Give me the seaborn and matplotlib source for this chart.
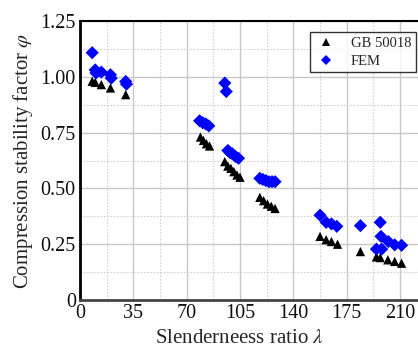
import numpy as np
import pandas as pd
import matplotlib
matplotlib.use("Agg")
import matplotlib.pyplot as plt
from matplotlib.ticker import MultipleLocator, FixedLocator
import seaborn as sns

# ---- data ----
gb_lambda = [8, 10, 14, 20, 30, 79, 81, 83, 85, 95, 97, 99, 101, 103, 105,
             118, 120.5, 123, 125.5, 128, 157.5, 161.5, 165, 169, 184,
             194.5, 197, 202, 206.5, 211]
gb_phi = [0.98, 0.975, 0.965, 0.95, 0.92, 0.73, 0.715, 0.70, 0.69, 0.62, 0.60,
          0.59, 0.575, 0.56, 0.55, 0.46, 0.445, 0.43, 0.42, 0.41, 0.285, 0.27,
          0.262, 0.25, 0.217, 0.193, 0.19, 0.18, 0.173, 0.165]
fem_lambda = [8, 10, 10.5, 14, 20, 20.5, 30, 30.5, 78.5, 80.5, 82.5, 84.5, 95,
              96, 97, 98.5, 100, 102, 104, 118, 120, 122, 124, 126, 128, 157.5,
              161.5, 165, 168.5, 184, 197, 197.5, 194.5, 198, 202.3, 206.5, 211]
fem_phi = [1.108, 1.031, 1.017, 1.021, 1.009, 0.994, 0.979, 0.967, 0.803, 0.794,
           0.789, 0.78, 0.972, 0.934, 0.67, 0.66, 0.655, 0.643, 0.635, 0.545,
           0.54, 0.535, 0.53, 0.53, 0.53, 0.38, 0.348, 0.341, 0.33, 0.333,
           0.348, 0.285, 0.228, 0.228, 0.262, 0.247, 0.245]
series_names = ["GB 50018", "FEM"]
x_ticks = [0, 35, 70, 105, 140, 175, 210]
y_ticks = [0, 0.25, 0.50, 0.75, 1.00, 1.25]
y_tick_labels = ["0", "0.25", "0.50", "0.75", "1.00", "1.25"]

df = pd.concat([
    pd.DataFrame({"lam": gb_lambda, "phi": gb_phi, "src": series_names[0]}),
    pd.DataFrame({"lam": fem_lambda, "phi": fem_phi, "src": series_names[1]}),
])

sns.set_style("white")
plt.rcParams["font.family"] = ["Liberation Serif", "DejaVu Serif"]
plt.rcParams["mathtext.fontset"] = "stix"

fig = plt.figure(figsize=(4.18, 3.51), dpi=100)
ax = fig.add_axes([80 / 418, 51 / 351, 338 / 418, 279 / 351])

sns.scatterplot(data=df, x="lam", y="phi", hue="src", style="src",
                palette={"GB 50018": "black", "FEM": "#0000ff"},
                markers={"GB 50018": "^", "FEM": "D"},
                s=45, linewidth=0, ax=ax, zorder=3, legend=True)

ax.set_xlim(0, 338 / 1.524)
ax.set_ylim(0, 1.25)
ax.xaxis.set_major_locator(FixedLocator(x_ticks))
ax.xaxis.set_minor_locator(MultipleLocator(17.5))
ax.set_yticks(y_ticks)
ax.set_yticklabels(y_tick_labels)
ax.yaxis.set_minor_locator(MultipleLocator(0.125))

ax.grid(which="major", color="#c8c8c8", linewidth=1.0, linestyle="-")
ax.grid(which="minor", color="#d0d0d0", linewidth=0.8, linestyle=(0, (1.5, 1.5)))
ax.set_axisbelow(True)

ax.tick_params(which="both", length=0, labelsize=14.5, pad=3, colors="black")
for lab in ax.get_xticklabels() + ax.get_yticklabels():
    lab.set_color("#111111")

ax.spines["left"].set_color("black")
ax.spines["left"].set_linewidth(2.0)
ax.spines["bottom"].set_color("#444444")
ax.spines["bottom"].set_linewidth(2.0)
ax.spines["top"].set_color("black")
ax.spines["top"].set_linewidth(1.5)
ax.spines["right"].set_visible(False)

ax.set_xlabel(r"Slenderneess ratio $\lambda$", fontsize=15)
ax.xaxis.set_label_coords(0.47, -0.105)
ax.set_ylabel(r"Compression stability factor $\varphi$", fontsize=15, labelpad=4)

leg = ax.legend(loc="upper right", bbox_to_anchor=(0.993, 0.96), fontsize=10.5,
                frameon=True, fancybox=False, edgecolor="black",
                borderpad=0.3, handletextpad=0.9, labelspacing=0.35,
                handlelength=1.6, markerscale=0.8, borderaxespad=0)
leg.get_frame().set_linewidth(1.0)

fig.savefig("out.png", dpi=100)
